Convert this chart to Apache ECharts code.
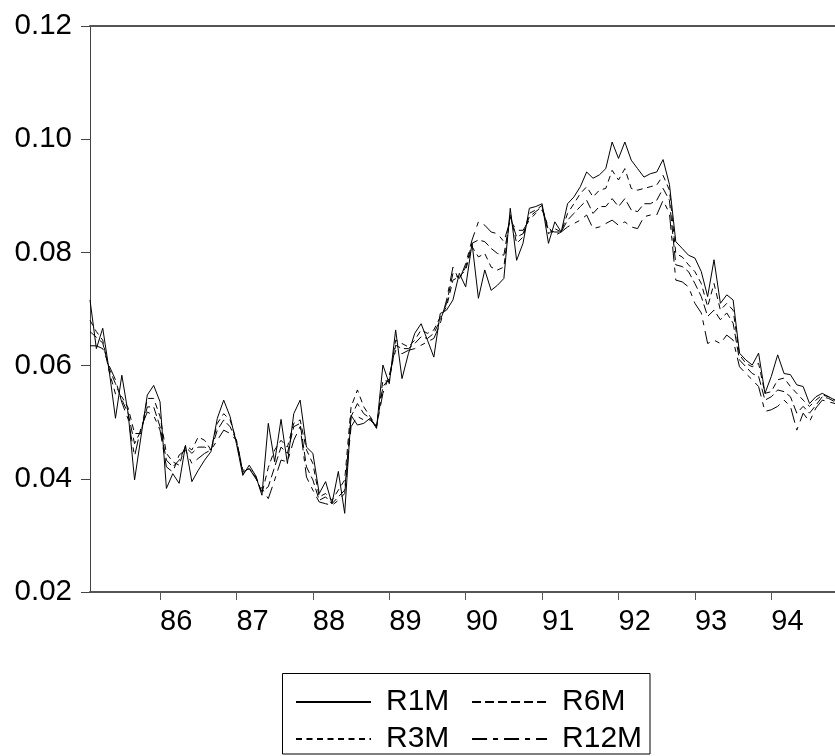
<!DOCTYPE html>
<html>
<head>
<meta charset="utf-8">
<script src="https://cdn.jsdelivr.net/npm/echarts@6/dist/echarts.min.js"></script>
<style>html,body{margin:0;padding:0;background:#fff}#c{width:835px;height:756px}</style>
</head>
<body>
<div id="c"></div>
<script>
// Monthly observations, 1985M02 .. 1994M11
const startYear = 1985, startMonth = 2, nObs = 118;
const months = [];
for (let i = 0; i < nObs; i++) {
  const m = startMonth - 1 + i;
  const y = startYear + Math.floor(m / 12);
  const mm = (m % 12) + 1;
  months.push(y + '-' + (mm < 10 ? '0' + mm : mm));
}

const yTicks = [0.02, 0.04, 0.06, 0.08, 0.10, 0.12];

const R1M = [
0.0716,0.0630,0.0666,0.0592,0.0507,0.0583,0.0515,0.0398,0.0474,0.0548,0.0565,
0.0536,0.0383,0.0409,0.0392,0.0459,0.0395,0.0415,0.0433,0.0448,0.0507,0.0539,0.0510,
0.0462,0.0406,0.0424,0.0406,0.0371,0.0498,0.0430,0.0505,0.0427,0.0515,0.0539,0.0456,
0.0445,0.0374,0.0395,0.0356,0.0413,0.0339,0.0512,0.0495,0.0498,0.0507,0.0489,0.0601,
0.0568,0.0663,0.0577,0.0621,0.0657,0.0674,0.0645,0.0615,0.0692,0.0698,0.0716,0.0763,
0.0739,0.0816,0.0719,0.0769,0.0733,0.0742,0.0754,0.0878,0.0786,0.0816,0.0878,0.0881,
0.0886,0.0816,0.0854,0.0836,0.0886,0.0898,0.0916,0.0942,0.0931,0.0937,0.0948,0.0995,
0.0966,0.0995,0.0963,0.0948,0.0933,0.0939,0.0942,0.0964,0.0920,0.0819,0.0807,0.0795,
0.0790,0.0766,0.0722,0.0787,0.0710,0.0725,0.0716,0.0622,0.0610,0.0601,0.0622,0.0551,
0.0581,0.0619,0.0586,0.0584,0.0566,0.0563,0.0533,0.0545,0.0551,0.0545,0.0539
];

const R3M = [
0.0680,0.0660,0.0645,0.0590,0.0550,0.0545,0.0525,0.0480,0.0480,0.0542,0.0542,
0.0510,0.0445,0.0430,0.0424,0.0459,0.0451,0.0474,0.0468,0.0451,0.0498,0.0515,0.0504,
0.0468,0.0409,0.0418,0.0406,0.0374,0.0420,0.0451,0.0468,0.0456,0.0498,0.0504,0.0451,
0.0427,0.0368,0.0374,0.0362,0.0380,0.0398,0.0527,0.0557,0.0527,0.0510,0.0492,0.0574,
0.0572,0.0645,0.0639,0.0633,0.0645,0.0663,0.0657,0.0663,0.0686,0.0704,0.0751,0.0757,
0.0769,0.0810,0.0792,0.0798,0.0774,0.0769,0.0774,0.0869,0.0816,0.0827,0.0869,0.0875,
0.0883,0.0833,0.0842,0.0836,0.0869,0.0886,0.0904,0.0916,0.0898,0.0910,0.0913,0.0945,
0.0928,0.0948,0.0913,0.0910,0.0913,0.0916,0.0919,0.0936,0.0910,0.0798,0.0792,0.0778,
0.0766,0.0745,0.0704,0.0745,0.0698,0.0710,0.0698,0.0619,0.0604,0.0598,0.0604,0.0551,
0.0554,0.0575,0.0578,0.0563,0.0551,0.0539,0.0528,0.0539,0.0548,0.0545,0.0539
];

const R6M = [
0.0660,0.0650,0.0640,0.0595,0.0568,0.0540,0.0515,0.0462,0.0485,0.0527,0.0527,
0.0492,0.0433,0.0421,0.0433,0.0456,0.0445,0.0456,0.0456,0.0451,0.0486,0.0504,0.0492,
0.0468,0.0412,0.0418,0.0403,0.0377,0.0386,0.0421,0.0456,0.0445,0.0492,0.0498,0.0421,
0.0398,0.0362,0.0368,0.0356,0.0368,0.0380,0.0510,0.0533,0.0515,0.0507,0.0492,0.0563,
0.0577,0.0636,0.0630,0.0630,0.0639,0.0651,0.0648,0.0657,0.0680,0.0710,0.0763,0.0754,
0.0774,0.0816,0.0822,0.0819,0.0807,0.0798,0.0795,0.0863,0.0827,0.0833,0.0863,0.0872,
0.0881,0.0839,0.0836,0.0836,0.0857,0.0869,0.0881,0.0892,0.0869,0.0881,0.0881,0.0895,
0.0881,0.0895,0.0875,0.0872,0.0886,0.0886,0.0892,0.0913,0.0892,0.0778,0.0775,0.0766,
0.0745,0.0722,0.0687,0.0698,0.0681,0.0693,0.0675,0.0610,0.0598,0.0586,0.0581,0.0539,
0.0545,0.0557,0.0554,0.0545,0.0516,0.0528,0.0516,0.0530,0.0545,0.0542,0.0536
];

const R12M = [
0.0635,0.0635,0.0630,0.0600,0.0575,0.0535,0.0505,0.0440,0.0490,0.0518,0.0512,
0.0486,0.0421,0.0412,0.0442,0.0451,0.0427,0.0436,0.0445,0.0451,0.0468,0.0486,0.0480,
0.0468,0.0415,0.0418,0.0401,0.0383,0.0365,0.0398,0.0433,0.0430,0.0468,0.0492,0.0403,
0.0380,0.0359,0.0356,0.0353,0.0362,0.0374,0.0492,0.0510,0.0504,0.0504,0.0492,0.0551,
0.0583,0.0627,0.0621,0.0627,0.0630,0.0636,0.0642,0.0648,0.0674,0.0716,0.0774,0.0751,
0.0780,0.0822,0.0854,0.0848,0.0836,0.0833,0.0819,0.0857,0.0839,0.0839,0.0857,0.0869,
0.0875,0.0845,0.0830,0.0836,0.0845,0.0851,0.0857,0.0866,0.0842,0.0845,0.0851,0.0857,
0.0848,0.0854,0.0845,0.0842,0.0863,0.0866,0.0866,0.0892,0.0869,0.0751,0.0748,0.0739,
0.0710,0.0693,0.0639,0.0645,0.0639,0.0654,0.0645,0.0598,0.0586,0.0575,0.0563,0.0519,
0.0522,0.0528,0.0539,0.0528,0.0486,0.0516,0.0501,0.0525,0.0539,0.0536,0.0533
];

const seriesNames = ['R1M', 'R3M', 'R6M', 'R12M'];
const seriesData = [R1M, R3M, R6M, R12M];
const dashes = ['solid', [6, 4.5], [9, 4], [15, 6, 5, 6]];
const legendRows = [['R1M', 'R6M'], ['R3M', 'R12M']];

const FONT = 'Liberation Sans, Arial, Helvetica, sans-serif';
const isJan = (idx, val) => val.slice(5) === '01';

const legendBase = {
  orient: 'horizontal',
  left: 295,
  itemWidth: 75, itemHeight: 14,
  itemGap: 21.7,
  padding: 0,
  itemStyle: {opacity: 0, borderWidth: 0},
  formatter: name => '{t|' + name + '}',
  textStyle: {
    fontSize: 30, fontFamily: FONT, color: '#000',
    rich: {t: {fontSize: 30, fontFamily: FONT, color: '#000', padding: [0, 0, 0, 10], lineHeight: 30}}
  }
};

const chart = echarts.init(document.getElementById('c'), null, {renderer: 'canvas'});
chart.setOption({
  animation: false,
  backgroundColor: '#fff',
  grid: {left: 90, top: 26, width: 746.5, height: 566, containLabel: false},
  xAxis: [{
    type: 'category',
    data: months,
    boundaryGap: false,
    axisLine: {show: true, lineStyle: {color: '#555', width: 2}},
    axisTick: {show: true, length: 8, interval: isJan, lineStyle: {color: '#555', width: 1}},
    axisLabel: {
      show: true, interval: isJan, align: 'left', margin: 15,
      fontSize: 29, fontFamily: FONT, color: '#000',
      formatter: v => v.slice(2, 4)
    },
    splitLine: {show: false}
  }, {
    type: 'category',
    data: months,
    boundaryGap: false,
    position: 'top',
    axisLine: {show: true, lineStyle: {color: '#555', width: 2}},
    axisTick: {show: false},
    axisLabel: {show: false},
    splitLine: {show: false}
  }],
  yAxis: {
    type: 'value',
    min: yTicks[0], max: yTicks[yTicks.length - 1], interval: 0.02,
    axisLine: {show: true, lineStyle: {color: '#444', width: 1}},
    axisTick: {show: true, length: 9, lineStyle: {color: '#444', width: 1}},
    axisLabel: {
      margin: 18, fontSize: 29.5, fontFamily: FONT, color: '#000',
      formatter: v => v.toFixed(2)
    },
    splitLine: {show: false}
  },
  legend: [
    Object.assign({}, legendBase, {data: legendRows[0], top: 687}),
    Object.assign({}, legendBase, {data: legendRows[1], top: 724})
  ],
  graphic: [{
    type: 'rect',
    shape: {x: 282.5, y: 673.5, width: 367.5, height: 80.5},
    style: {fill: null, stroke: '#000', lineWidth: 1},
    silent: true
  }],
  series: seriesNames.map((name, i) => ({
    name: name,
    type: 'line',
    xAxisIndex: 0,
    data: seriesData[i],
    symbol: 'none',
    showSymbol: false,
    lineStyle: {color: '#000', width: 1, type: dashes[i]},
    itemStyle: {color: '#000'},
    emphasis: {disabled: true}
  }))
});
</script>
</body>
</html>
